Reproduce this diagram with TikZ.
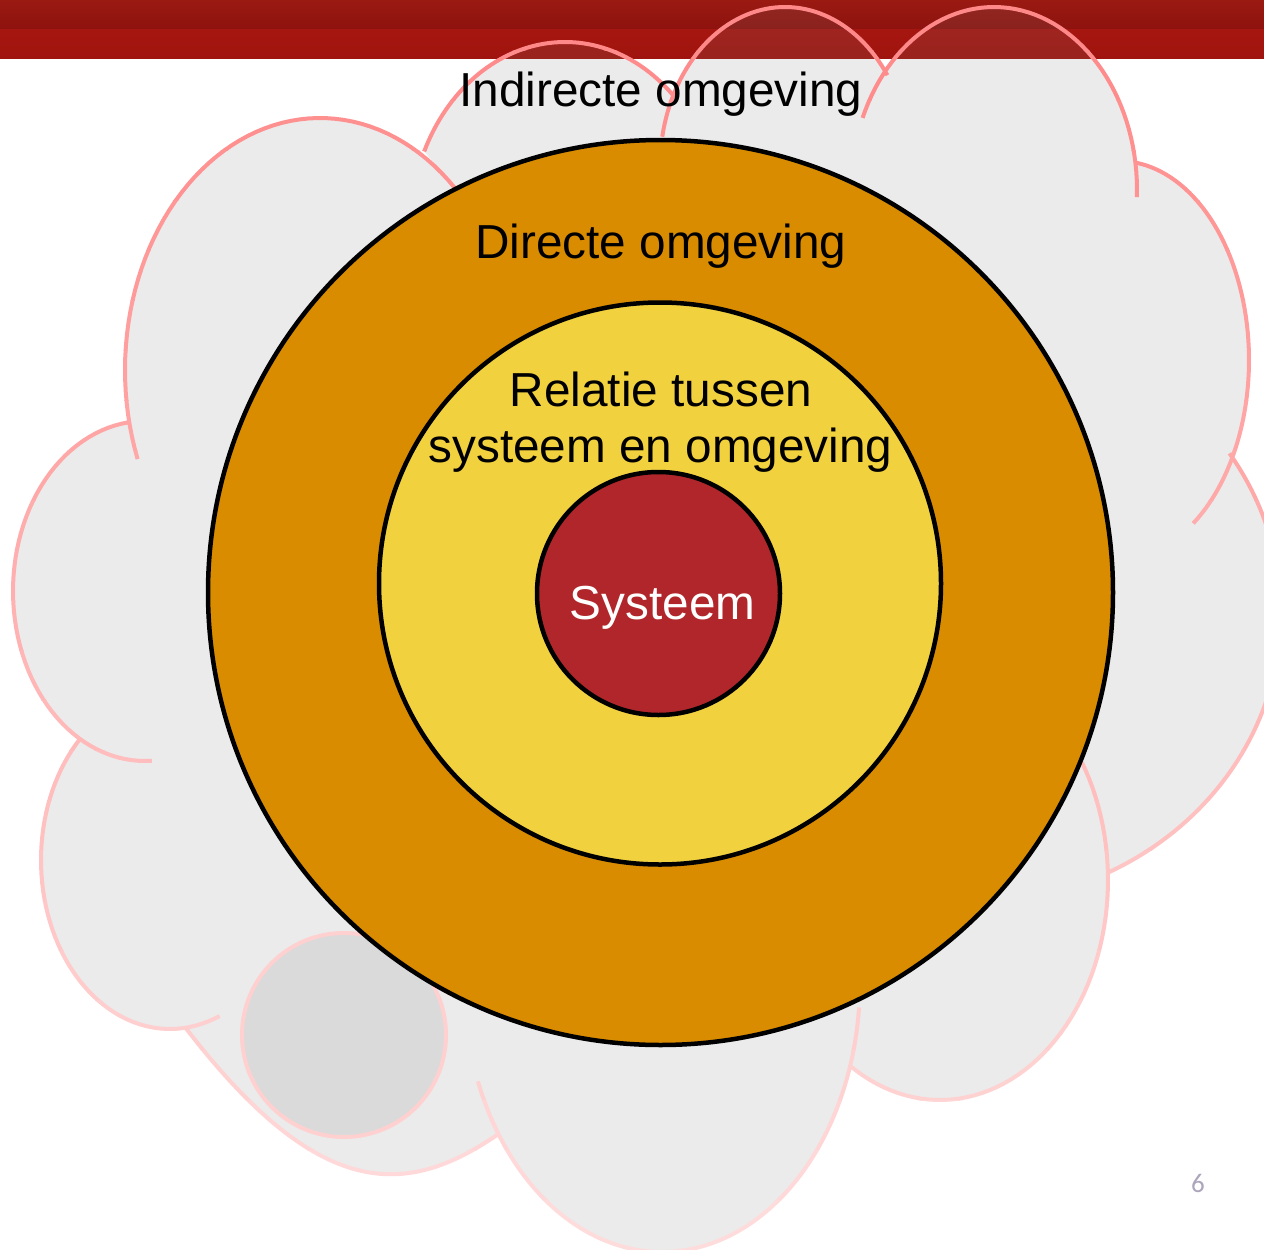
\documentclass[tikz,border=0pt]{standalone}
\usepackage{fontspec}
\setmainfont{Liberation Sans}
\newfontfamily\pagefont{Carlito}
\definecolor{barA}{RGB}{154,26,18}
\definecolor{barB}{RGB}{142,18,14}
\definecolor{barC}{RGB}{166,22,16}
\definecolor{barD}{RGB}{160,20,15}
\definecolor{cloudfill}{RGB}{121,121,121}
\definecolor{linetop}{RGB}{255,135,135}
\definecolor{linebot}{RGB}{255,222,222}
\definecolor{orangering}{RGB}{217,140,0}
\definecolor{yellowring}{RGB}{242,209,63}
\definecolor{redcore}{RGB}{176,38,42}
\definecolor{smallgray}{RGB}{218,218,218}
\definecolor{smallline}{RGB}{255,208,208}
\definecolor{pagegray}{RGB}{172,165,188}
\begin{document}
\begin{tikzpicture}[x=1pt,y=-1pt,
  ring/.style={circle, draw=black, line width=4.5pt, inner sep=0pt},
  lbl/.style={font=\fontsize{47.7}{56}\selectfont, inner sep=0pt, anchor=base},
  cloudline/.style={line width=4pt}]
\useasboundingbox (0,0) rectangle (1264,1250);
\clip (0,0) rectangle (1264,1250);
\fill[white] (0,0) rectangle (1264,1250);
% title bar
\shade[top color=barA, bottom color=barB] (0,0) rectangle (1264,29);
\shade[top color=barC, bottom color=barD] (0,29) rectangle (1264,58);
% cloud fill
\fill[cloudfill, fill opacity=0.15]
  plot[domain=159.3:313.7, samples=60, variable=\t] ({320+195*cos(\t)},{370+252*sin(\t)})
  -- plot[domain=204.7:313.8, samples=60, variable=\t] ({565+155*cos(\t)},{230+188*sin(\t)})
  -- plot[domain=190.9:325, samples=60, variable=\t] ({785+125*cos(\t)},{167+160*sin(\t)})
  -- plot[domain=203.2:362.2, samples=60, variable=\t] ({994+143*cos(\t)},{190+183*sin(\t)})
  -- plot[domain=277.1:415.2, samples=60, variable=\t] ({1119+130*cos(\t)},{360+199*sin(\t)})
  -- plot[domain=-33.4:63.8, samples=60, variable=\t] ({969+312*cos(\t)},{613+290*sin(\t)})
  -- plot[domain=-32.3:122.8, samples=60, variable=\t] ({940+168*cos(\t)},{880+220*sin(\t)})
  -- plot[domain=5.4:158.4, samples=60, variable=\t] ({662+198*cos(\t)},{982+270*sin(\t)})
  -- (497,1135) .. controls (406,1197) and (319,1202) .. (185,1027)
  -- plot[domain=67.4:225.7, samples=60, variable=\t] ({170+129*cos(\t)},{860+169*sin(\t)})
  -- plot[domain=87:262.6, samples=60, variable=\t] ({145+132*cos(\t)},{591+170*sin(\t)})
  -- cycle;
% cloud outline, colour graded from top to bottom
\foreach \i in {0,...,24}{
  \pgfmathtruncatemacro\p{98-4*\i}
  \begin{scope}
    \clip (0,{50*\i}) rectangle (1264,{50*\i+50});
    \draw[cloudline, draw=linetop!\p!linebot]
      plot[domain=159.3:313.7, samples=60, variable=\t] ({320+195*cos(\t)},{370+252*sin(\t)})
      plot[domain=204.7:313.8, samples=60, variable=\t] ({565+155*cos(\t)},{230+188*sin(\t)})
      plot[domain=190.9:325, samples=60, variable=\t] ({785+125*cos(\t)},{167+160*sin(\t)})
      plot[domain=203.2:362.2, samples=60, variable=\t] ({994+143*cos(\t)},{190+183*sin(\t)})
      plot[domain=277.1:415.2, samples=60, variable=\t] ({1119+130*cos(\t)},{360+199*sin(\t)})
      plot[domain=-33.4:63.8, samples=60, variable=\t] ({969+312*cos(\t)},{613+290*sin(\t)})
      plot[domain=-32.3:122.8, samples=60, variable=\t] ({940+168*cos(\t)},{880+220*sin(\t)})
      plot[domain=5.4:158.4, samples=60, variable=\t] ({662+198*cos(\t)},{982+270*sin(\t)})
      (497,1135) .. controls (406,1197) and (319,1202) .. (185,1027)
      plot[domain=67.4:225.7, samples=60, variable=\t] ({170+129*cos(\t)},{860+169*sin(\t)})
      plot[domain=87:262.6, samples=60, variable=\t] ({145+132*cos(\t)},{591+170*sin(\t)});
  \end{scope}
}
% small grey circle
\node[circle, draw=smallline, fill=smallgray, line width=4pt, inner sep=0pt, minimum size=204pt] (smallcircle) at (344,1035) {};
% concentric circles
\node[ring, fill=orangering, minimum size=905pt] (direct) at (660.5,592.5) {};
\node[ring, fill=yellowring, minimum size=562pt] (relation) at (660,583.5) {};
\node[ring, fill=redcore, minimum size=243pt] (system) at (658.5,593.5) {};
% labels
\node[lbl] (indirectlabel) at (661,106) {Indirecte omgeving};
\node[lbl] (directlabel) at (661,258) {Directe omgeving};
\node[lbl] (relationlabelA) at (661,406) {Relatie tussen};
\node[lbl] (relationlabelB) at (660.5,462) {systeem en omgeving};
\node[lbl, text=white] (systemlabel) at (662.5,619) {Systeem};
\node[anchor=base, inner sep=0pt, text=pagegray, font=\pagefont\fontsize{27}{30}\selectfont] (pagenum) at (1198,1192) {6};
\end{tikzpicture}
\end{document}
